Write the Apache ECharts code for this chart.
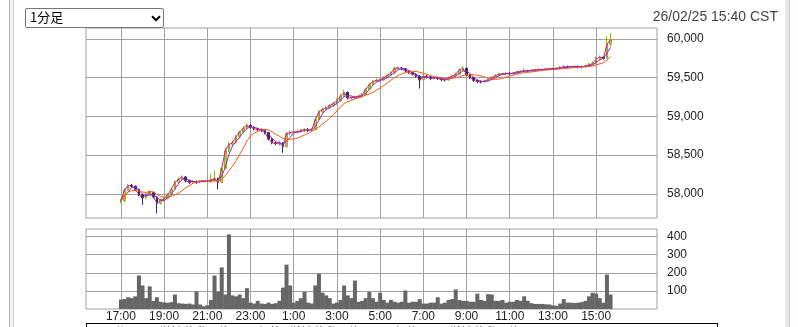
<!DOCTYPE html>
<html>
<head>
<meta charset="utf-8">
<script src="https://cdn.jsdelivr.net/npm/echarts@6/dist/echarts.min.js"></script>
<style>
html,body{margin:0;padding:0;background:#fff;overflow:hidden;width:798px;height:327px;}
#chart{position:absolute;left:0;top:0;width:798px;height:327px;}
#sel{position:absolute;left:25px;top:8px;width:139px;height:20px;box-sizing:border-box;border:1px solid #767676;border-radius:2px;background:#fff;}
#sel .txt{position:absolute;left:4px;top:-2px;height:18px;line-height:18px;font:13px "Noto Sans CJK JP",sans-serif;color:#000;}
#sel svg{position:absolute;left:125px;top:6px;}
#date{position:absolute;right:20px;top:7px;font:14px "Liberation Sans",Arial,sans-serif;color:#444;line-height:18px;}
#lbar{position:absolute;left:9px;top:0;width:3px;height:327px;border-left:1px solid #b8b8b8;border-right:1px solid #d8d8d8;background:#f2f2f2;}
#rbar{position:absolute;left:785px;top:0;width:4px;height:327px;background:#e6e9ee;border-right:1px solid #c6cad0;}
#legend{position:absolute;left:86px;top:323px;width:630px;height:30px;border:1px solid #000;font:12px "Noto Sans CJK JP",sans-serif;color:#444;line-height:14px;overflow:hidden;}
#legend span{position:absolute;top:1px;white-space:nowrap;}
</style>
</head>
<body>
<div id="lbar"></div>
<div id="rbar"></div>
<div id="chart"></div>
<div id="sel" role="listbox"><span class="txt">1分足</span><svg width="10" height="7" viewBox="0 0 10 7"><path d="M1 1.2 L5 5.2 L9 1.2" fill="none" stroke="#000" stroke-width="2"/></svg></div>
<div id="date">26/02/25 15:40 CST</div>
<div id="legend">
  <span style="left:6px">■ 1分足</span>
  <span style="left:72px">単純移動平均(5)　価格</span>
  <span style="left:202px">単純移動平均(25)　価格</span>
  <span style="left:362px">単純移動平均(75)</span>
</div>
<script>
// ---- data (10-minute sampling of the 1-minute chart) ----
const startTime = '17:00';
const stepMinutes = 10;
// [open, close, low, high]
const candles = [
[57900,57910,57880,57940],[57910,58050,57900,58080],[58050,58110,58040,58130],[58110,58100,58080,58130],
[58100,58060,58040,58110],[58060,57990,57970,58070],[57990,57950,57860,58000],[57950,57990,57930,58010],
[57990,58020,57970,58050],[58020,57960,57940,58030],[57960,57880,57750,57970],[57880,57920,57860,57940],
[57920,57940,57900,57960],[57940,57990,57930,58010],[57990,58060,57980,58080],[58060,58150,58050,58170],
[58150,58190,58130,58210],[58190,58220,58170,58240],[58220,58170,58150,58230],[58170,58150,58130,58180],
[58150,58160,58130,58180],[58160,58155,58130,58175],[58155,58160,58140,58180],[58160,58165,58145,58180],
[58165,58170,58150,58190],[58170,58180,58140,58250],[58180,58200,58160,58300],[58200,58150,58060,58210],
[58150,58330,58140,58350],[58330,58560,58320,58600],[58560,58640,58540,58670],[58640,58660,58610,58690],
[58660,58740,58650,58760],[58740,58800,58720,58820],[58800,58850,58780,58870],[58850,58885,58830,58910],
[58885,58860,58840,58900],[58860,58840,58820,58870],[58840,58830,58810,58855],[58830,58820,58800,58845],
[58820,58790,58770,58830],[58790,58710,58690,58800],[58710,58660,58640,58720],[58660,58650,58630,58680],
[58650,58660,58620,58690],[58660,58610,58530,58670],[58610,58780,58600,58800],[58780,58790,58760,58820],
[58790,58800,58770,58830],[58800,58800,58780,58830],[58800,58820,58790,58840],[58820,58830,58800,58850],
[58830,58820,58800,58850],[58820,58830,58800,58850],[58830,58960,58820,58990],[58960,59060,58950,59080],
[59060,59090,59040,59110],[59090,59110,59070,59140],[59110,59140,59100,59160],[59140,59165,59120,59190],
[59165,59200,59150,59230],[59200,59260,59190,59290],[59260,59310,59240,59340],[59310,59240,59220,59320],
[59240,59240,59210,59260],[59240,59250,59220,59270],[59250,59260,59230,59280],[59260,59280,59240,59300],
[59280,59350,59270,59370],[59350,59410,59340,59430],[59410,59450,59400,59470],[59450,59465,59440,59490],
[59465,59470,59450,59490],[59470,59500,59460,59520],[59500,59530,59490,59550],[59530,59560,59520,59580],
[59560,59620,59550,59640],[59620,59625,59600,59645],[59625,59615,59595,59635],[59615,59590,59570,59625],
[59590,59565,59550,59600],[59565,59545,59530,59575],[59545,59520,59500,59555],[59520,59470,59360,59530],
[59470,59520,59460,59540],[59520,59510,59490,59535],[59510,59490,59470,59520],[59490,59495,59475,59515],
[59495,59490,59470,59510],[59490,59475,59455,59500],[59475,59470,59450,59490],[59470,59500,59460,59515],
[59500,59520,59490,59540],[59520,59545,59510,59565],[59545,59600,59535,59620],[59600,59620,59580,59650],
[59620,59540,59520,59625],[59540,59500,59480,59550],[59500,59465,59445,59510],[59465,59450,59430,59475],
[59450,59445,59425,59465],[59445,59455,59435,59475],[59455,59475,59445,59490],[59475,59500,59465,59515],
[59500,59525,59490,59545],[59525,59545,59515,59565],[59545,59550,59530,59565],[59550,59555,59535,59570],
[59555,59550,59535,59570],[59550,59560,59540,59575],[59560,59575,59550,59590],[59575,59580,59560,59595],
[59580,59590,59570,59620],[59590,59585,59570,59600],[59585,59595,59575,59610],[59595,59600,59585,59615],
[59600,59605,59590,59620],[59605,59605,59590,59620],[59605,59610,59595,59625],[59610,59615,59600,59630],
[59615,59615,59600,59630],[59615,59620,59605,59635],[59620,59630,59610,59650],[59630,59640,59615,59665],
[59640,59635,59620,59655],[59635,59640,59620,59655],[59640,59645,59625,59660],[59645,59640,59620,59655],
[59640,59640,59615,59655],[59640,59650,59630,59670],[59650,59665,59640,59690],[59665,59680,59655,59710],
[59680,59740,59670,59770],[59740,59765,59725,59785],[59765,59750,59730,59775],[59750,59930,59740,60030],
[59930,59990,59900,60070]
];
const volumes = [
52,55,65,60,70,185,130,60,125,45,65,40,36,34,38,80,32,30,28,30,25,97,25,15,20,50,185,95,230,80,
412,75,70,80,60,115,35,30,45,30,28,35,28,32,45,118,245,130,35,45,60,95,35,30,130,195,90,75,60,30,
35,50,130,75,60,157,40,45,60,95,60,40,90,50,35,50,40,35,40,102,35,40,40,55,30,30,35,35,65,30,
35,50,55,108,50,45,45,40,40,85,50,45,82,80,45,45,50,35,40,40,50,45,70,45,32,28,28,28,26,25,
20,18,30,55,35,35,33,35,38,45,70,90,85,60,35,190,80
];
const maPeriods = [5, 25, 75];           // minutes
const maColors = ['#e3186e', '#8d2bd0', '#ef5a16'];
const timeTickLabels = ['17:00','19:00','21:00','23:00','1:00','3:00','5:00','7:00','9:00','11:00','13:00','15:00'];
const priceTicks = [58000, 58500, 59000, 59500, 60000];
const volumeTicks = [100, 200, 300, 400];
const priceRange = [57690, 60140];
const volumeRange = [0, 442];
const timeRange = ['15:23', '17:49'];   // visible window (next day end)

// ---- helpers ----
function toMin(s){ const p = s.split(':'); return +p[0]*60 + +p[1]; }
const base = toMin(startTime);
function offset(s){ return ((toMin(s) - base) % 1440 + 1440) % 1440; }
function label(v){ const t = (base + v) % 1440; const h = Math.floor(t/60), m = Math.round(t%60); return h + ':' + (m<10?'0':'') + m; }
const xMin = offset(timeRange[0]) - 1440;
const xMax = offset(timeRange[1]) + 1440;
const xs = candles.map((_, i) => i * stepMinutes);
const timeTickValues = timeTickLabels.map(offset);
const closes = candles.map(c => c[1]);
function sma(vals, n){
  return vals.map((v, i) => { const s = Math.max(0, i-n+1); let sum = 0; for (let k=s;k<=i;k++) sum += vals[k]; return sum/(i-s+1); });
}

const chart = echarts.init(document.getElementById('chart'), null, {renderer:'canvas'});
const gridLine = '#a0a0a0';
const lblColor = '#222';
const lblFont = {color: lblColor, fontSize: 12, fontFamily: '"Liberation Sans", Arial, sans-serif'};

const maSeries = maPeriods.map((p, k) => ({
  type: 'line', xAxisIndex: 0, yAxisIndex: 0, showSymbol: false, symbol: 'none',
  data: sma(closes, Math.max(1, Math.round(p / stepMinutes))).map((v, i) => [xs[i], v]),
  lineStyle: {width: 1, color: maColors[k]}, itemStyle: {color: maColors[k]}, z: 3 + k, silent: true
}));

chart.setOption({
  animation: false,
  backgroundColor: 'transparent',
  grid: [
    {left: 86, top: 28, width: 571, height: 190, show: true, borderColor: gridLine, borderWidth: 1, containLabel: false},
    {left: 86, top: 229, width: 571, height: 80, show: true, borderColor: gridLine, borderWidth: 1, containLabel: false}
  ],
  xAxis: [
    {type: 'value', gridIndex: 0, min: xMin, max: xMax,
     axisLine: {show: false}, axisTick: {show: false, customValues: timeTickValues},
     axisLabel: {show: false, customValues: timeTickValues},
     splitLine: {show: true, lineStyle: {color: gridLine, width: 1}}},
    {type: 'value', gridIndex: 1, min: xMin, max: xMax,
     axisLine: {show: false}, axisTick: {show: false, customValues: timeTickValues},
     axisLabel: Object.assign({show: true, margin: 2, customValues: timeTickValues, formatter: v => label(v)}, lblFont),
     splitLine: {show: true, lineStyle: {color: gridLine, width: 1}}}
  ],
  yAxis: [
    {type: 'value', gridIndex: 0, position: 'right', min: priceRange[0], max: priceRange[1],
     axisLine: {show: false},
     axisTick: {show: true, length: 5, lineStyle: {color: gridLine}, customValues: priceTicks},
     axisLabel: Object.assign({margin: 10, customValues: priceTicks, formatter: v => v.toLocaleString('en-US')}, lblFont),
     splitLine: {show: true, lineStyle: {color: gridLine, width: 1}}},
    {type: 'value', gridIndex: 1, position: 'right', min: volumeRange[0], max: volumeRange[1],
     axisLine: {show: false},
     axisTick: {show: true, length: 5, lineStyle: {color: gridLine}, customValues: volumeTicks},
     axisLabel: Object.assign({margin: 10, customValues: volumeTicks}, lblFont),
     splitLine: {show: true, lineStyle: {color: gridLine, width: 1}}}
  ],
  series: [
    {type: 'candlestick', xAxisIndex: 0, yAxisIndex: 0, barWidth: 2,
     data: candles.map((c, i) => [xs[i], c[0], c[1], c[2], c[3]]),
     itemStyle: {color: '#cfc437', color0: '#1e2d5a', borderColor: '#93ad36', borderColor0: '#1e2d5a', borderWidth: 1},
     z: 2, silent: true},
    ...maSeries,
    {type: 'bar', xAxisIndex: 1, yAxisIndex: 1, barWidth: 4,
     data: volumes.map((v, i) => [xs[i], v]),
     itemStyle: {color: '#666666'}, silent: true}
  ]
});
</script>
</body>
</html>
